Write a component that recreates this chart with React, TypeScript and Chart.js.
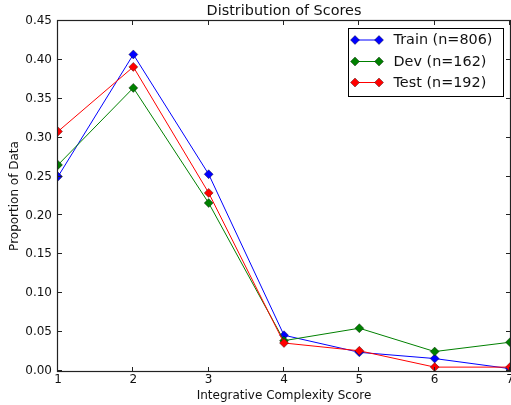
import React, { useEffect, useRef } from "react";
import { Chart, registerables } from "chart.js";

Chart.register(...registerables);

const scores = [1, 2, 3, 4, 5, 6, 7];
const trainValues = [0.25, 0.407, 0.253, 0.046, 0.024, 0.016, 0.003];
const devValues = [0.265, 0.364, 0.216, 0.039, 0.055, 0.025, 0.037];
const testValues = [0.308, 0.391, 0.229, 0.036, 0.026, 0.005, 0.005];
const seriesLabels = ["Train (n=806)", "Dev (n=162)", "Test (n=192)"];
const seriesColors = ["#0000ff", "#008000", "#ff0000"];
const yTicks = [0, 0.05, 0.1, 0.15, 0.2, 0.25, 0.3, 0.35, 0.4, 0.45];
const titleText = "Distribution of Scores";
const xTitle = "Integrative Complexity Score";
const yTitle = "Proportion of Data";

const FONT = "'DejaVu Sans', sans-serif";
const TEXT = "#111";

const framePlugin = {
  id: "frame",
  afterDraw(chart: any) {
    const { ctx, chartArea } = chart;
    const { left, right, top, bottom } = chartArea;
    const xs = chart.scales.x;
    const ys = chart.scales.y;
    ctx.save();
    ctx.strokeStyle = "#222";
    ctx.lineWidth = 1.2;
    ctx.strokeRect(Math.round(left) - 0.5, Math.round(top) - 0.5, Math.round(right - left) + 1, Math.round(bottom - top) + 1);
    ctx.lineWidth = 1;
    ctx.beginPath();
    const tl = 4;
    yTicks.forEach((v) => {
      const y = Math.round(ys.getPixelForValue(v)) - 0.5;
      ctx.moveTo(left, y);
      ctx.lineTo(left + tl, y);
      ctx.moveTo(right, y);
      ctx.lineTo(right - tl, y);
    });
    scores.forEach((v) => {
      const x = Math.round(xs.getPixelForValue(v)) - 0.5;
      ctx.moveTo(x, bottom);
      ctx.lineTo(x, bottom - tl);
      ctx.moveTo(x, top);
      ctx.lineTo(x, top + tl);
    });
    ctx.stroke();

    // x tick labels
    ctx.fillStyle = TEXT;
    ctx.font = `12px ${FONT}`;
    ctx.textAlign = "center";
    ctx.textBaseline = "middle";
    scores.forEach((v) => {
      ctx.fillText(String(v), xs.getPixelForValue(v), bottom + 9);
    });

    // title
    ctx.font = `14.4px ${FONT}`;
    ctx.fillText(titleText, (left + right) / 2, 11);

    // legend
    const bx = 348.5, by = 28.5, bw = 155, bh = 68;
    ctx.fillStyle = "#fff";
    ctx.fillRect(bx, by, bw, bh);
    ctx.strokeStyle = "#000";
    ctx.lineWidth = 1;
    ctx.strokeRect(bx, by, bw, bh);
    const rowY = [40, 61.5, 82.5];
    seriesLabels.forEach((lab, i) => {
      const y = rowY[i];
      ctx.strokeStyle = seriesColors[i];
      ctx.lineWidth = 1;
      ctx.beginPath();
      ctx.moveTo(355, y);
      ctx.lineTo(379, y);
      ctx.stroke();
      [355, 379].forEach((px) => {
        ctx.beginPath();
        const r = 4.5;
        ctx.moveTo(px - r, y);
        ctx.lineTo(px, y - r);
        ctx.lineTo(px + r, y);
        ctx.lineTo(px, y + r);
        ctx.closePath();
        ctx.fillStyle = seriesColors[i];
        ctx.fill();
        ctx.strokeStyle = "rgba(0,0,0,0.6)";
        ctx.lineWidth = 0.6;
        ctx.stroke();
      });
      ctx.fillStyle = TEXT;
      ctx.font = `14.4px ${FONT}`;
      ctx.textAlign = "left";
      ctx.textBaseline = "middle";
      ctx.fillText(lab, 393.5, y + 0.5);
    });
    ctx.restore();
  },
};

export default function App() {
  const ref = useRef<HTMLCanvasElement>(null);
  useEffect(() => {
    if (!ref.current) return;
    const seriesValues = [trainValues, devValues, testValues];
    const chart = new Chart(ref.current, {
      type: "line",
      data: {
        datasets: seriesValues.map((vals, i) => ({
          label: seriesLabels[i],
          data: scores.map((s, j) => ({ x: s, y: vals[j] })),
          borderColor: seriesColors[i],
          backgroundColor: seriesColors[i],
          pointBackgroundColor: seriesColors[i],
          pointBorderColor: "rgba(0,0,0,0.6)",
          pointBorderWidth: 0.6,
          pointStyle: "rectRot",
          pointRadius: 4.5,
          borderWidth: 1,
          tension: 0,
          fill: false,
          clip: 0,
          order: 3 - i,
        })),
      },
      options: {
        responsive: false,
        animation: false,
        layout: { autoPadding: false, padding: { top: 21, right: 1, left: 0, bottom: 0 } },
        plugins: {
          legend: { display: false },
          title: { display: false },
          tooltip: { enabled: false },
        },
        scales: {
          x: {
            type: "linear",
            min: 1,
            max: 7,
            grid: { display: false, drawTicks: false },
            border: { display: false },
            ticks: { display: false },
            title: {
              display: true,
              text: xTitle,
              color: TEXT,
              font: { family: FONT, size: 12 },
              padding: { top: 0, bottom: 2 },
            },
            afterFit: (s: any) => {
              s.height = 34;
            },
          },
          y: {
            type: "linear",
            min: 0,
            max: 0.45,
            grid: { display: false, drawTicks: false },
            border: { display: false },
            afterBuildTicks: (s: any) => {
              s.ticks = yTicks.map((v) => ({ value: v }));
            },
            ticks: {
              color: TEXT,
              font: { family: FONT, size: 12 },
              padding: 6,
              callback: (v: any) => Number(v).toFixed(2),
            },
            title: {
              display: true,
              text: yTitle,
              color: TEXT,
              font: { family: FONT, size: 12 },
              padding: { top: 8, bottom: 0 },
            },
            afterFit: (s: any) => {
              s.width = 58;
            },
          },
        },
      },
      plugins: [framePlugin],
    });
    return () => chart.destroy();
  }, []);
  return (
    <div style={{ position: "fixed", left: 0, top: 0, width: 511, height: 405, background: "#fff" }}>
      <canvas ref={ref} width={511} height={405} />
    </div>
  );
}
